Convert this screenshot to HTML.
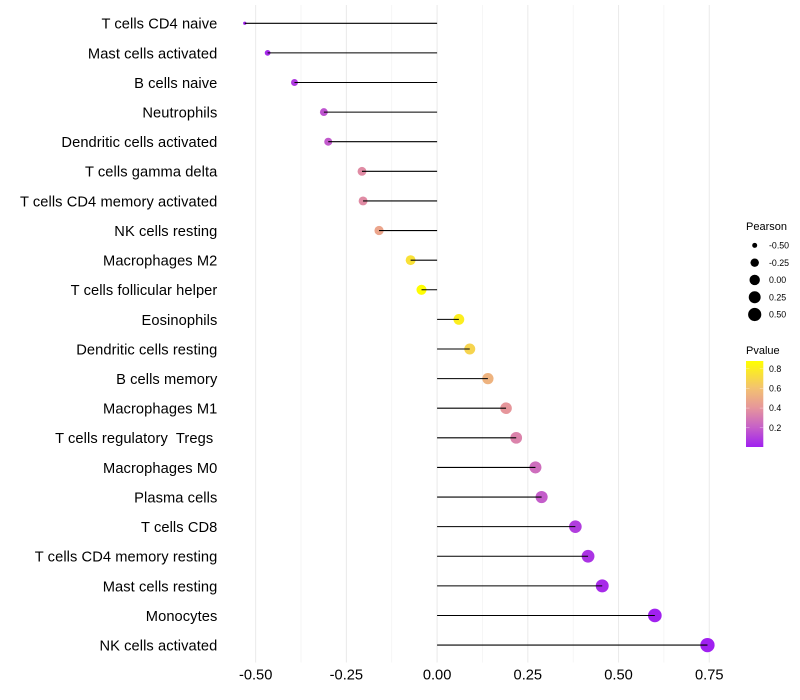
<!DOCTYPE html>
<html>
<head>
<meta charset="utf-8">
<title>Lollipop chart</title>
<style>
html,body{margin:0;padding:0;background:#fff;}
svg{display:block;font-family:"Liberation Sans",sans-serif;}
</style>
</head>
<body>
<svg id="chart" width="800" height="700" viewBox="0 0 800 700" xmlns="http://www.w3.org/2000/svg"></svg>
<script>
const categories = ["T cells CD4 naive","Mast cells activated","B cells naive","Neutrophils","Dendritic cells activated","T cells gamma delta","T cells CD4 memory activated","NK cells resting","Macrophages M2","T cells follicular helper","Eosinophils","Dendritic cells resting","B cells memory","Macrophages M1","T cells regulatory  Tregs ","Macrophages M0","Plasma cells","T cells CD8","T cells CD4 memory resting","Mast cells resting","Monocytes","NK cells activated"];
const pearson = [-0.530,-0.467,-0.393,-0.312,-0.300,-0.207,-0.204,-0.160,-0.073,-0.043,0.060,0.090,0.140,0.190,0.218,0.271,0.288,0.381,0.416,0.455,0.600,0.745];
const pvalue = [0.01,0.03,0.08,0.16,0.18,0.36,0.36,0.47,0.74,0.87,0.80,0.68,0.53,0.40,0.33,0.25,0.19,0.09,0.06,0.035,0.003,0.0003];
const xTicks = [-0.5,-0.25,0,0.25,0.5,0.75];
const xTickLabels = ["-0.50","-0.25","0.00","0.25","0.50","0.75"];
const xMinorTicks = [-0.375,-0.125,0.125,0.375,0.625];
const sizeLegendValues = [-0.5,-0.25,0,0.25,0.5];
const sizeLegendLabels = ["-0.50","-0.25","0.00","0.25","0.50"];
const colorLegendValues = [0.2,0.4,0.6,0.8];
const colorLegendLabels = ["0.2","0.4","0.6","0.8"];
const colorDomain = [0, 0.875];

const NS = "http://www.w3.org/2000/svg";
const svg = document.getElementById("chart");
const X0 = 437.1, XK = 362.9, Y0 = 23.28, YSTEP = 29.61;
const PANEL_TOP = 5, PANEL_BOTTOM = 662.5;
const xScale = v => X0 + XK * v;
const yScale = i => Y0 + YSTEP * i;
const pMin = Math.min(...pearson), pMax = Math.max(...pearson);
const sizeScale = v => 3.3 + 11 * Math.sqrt(Math.max(0, (v - pMin) / (pMax - pMin)));
const stops = [[0,[160,32,240]],[0.2,[198,96,200]],[0.4,[230,150,155]],[0.6,[243,194,112]],[0.875,[255,255,0]]];
function colorScale(p){
  for(let i=1;i<stops.length;i++){
    if(p<=stops[i][0]){
      const a=stops[i-1],b=stops[i],t=(p-a[0])/(b[0]-a[0]);
      return "rgb("+a[1].map((c,k)=>Math.round(c+(b[1][k]-c)*t)).join(",")+")";
    }
  }
  return "rgb(255,255,0)";
}
function mk(tag, attrs, text){
  const el = document.createElementNS(NS, tag);
  for(const k in attrs) el.setAttribute(k, attrs[k]);
  if(text !== undefined){
    el.textContent = text;
    el.setAttribute("xml:space","preserve");
    el.style.whiteSpace = "pre";
  }
  svg.appendChild(el);
  return el;
}

xMinorTicks.forEach(v=>{
  const el = mk("line",{x1:xScale(v),x2:xScale(v),y1:PANEL_TOP,y2:PANEL_BOTTOM,stroke:"#f2f2f2","stroke-width":0.7});
  
  
});
xTicks.forEach(v=>{
  const el = mk("line",{x1:xScale(v),x2:xScale(v),y1:PANEL_TOP,y2:PANEL_BOTTOM,stroke:"#ebebeb","stroke-width":1.07});
  
  
});

categories.forEach((c,i)=>{
  const dot = mk("circle",{cx:xScale(pearson[i]),cy:yScale(i),r:sizeScale(pearson[i])/2,fill:colorScale(pvalue[i])});
  
  
  const seg = mk("line",{x1:xScale(0),x2:xScale(pearson[i]),y1:yScale(i),y2:yScale(i),stroke:"#000","stroke-width":1.07});
  
  
  const lab = mk("text",{x:217.4,y:yScale(i)+5.4,"text-anchor":"end","font-size":14.67,"letter-spacing":0.08,fill:"#000"},c);
  
  
});

xTicks.forEach((v,i)=>{
  const t = mk("text",{x:xScale(v),y:679.5,"text-anchor":"middle","font-size":14.67,fill:"#000"},xTickLabels[i]);
  
  
});

const sizeTitle = mk("text",{x:746,y:230,"font-size":11,fill:"#000"},"Pearson");


sizeLegendValues.forEach((v,i)=>{
  const cy = 245.4 + i * 17.28;
  const c = mk("circle",{cx:754.7,cy:cy,r:sizeScale(v)/2,fill:"#000"});
  
  
  const t = mk("text",{x:769,y:cy+3.1,"font-size":8.8,fill:"#000"},sizeLegendLabels[i]);
  
  
});

const colorTitle = mk("text",{x:746,y:354,"font-size":11,fill:"#000"},"Pvalue");


const defs = document.createElementNS(NS,"defs");
const grad = document.createElementNS(NS,"linearGradient");
grad.setAttribute("id","pg");
grad.setAttribute("x1","0");grad.setAttribute("x2","0");grad.setAttribute("y1","1");grad.setAttribute("y2","0");
stops.forEach(s=>{
  const st = document.createElementNS(NS,"stop");
  st.setAttribute("offset",s[0]/colorDomain[1]);
  st.setAttribute("stop-color","rgb("+s[1].join(",")+")");
  grad.appendChild(st);
});
defs.appendChild(grad);
svg.appendChild(defs);
const BAR_TOP = 361, BAR_BOTTOM = 447, BAR_X = 746, BAR_W = 17.3;
const bar = mk("rect",{x:BAR_X,y:BAR_TOP,width:BAR_W,height:BAR_BOTTOM-BAR_TOP,fill:"url(#pg)"});


colorLegendValues.forEach((v,i)=>{
  const y = BAR_BOTTOM - (v - colorDomain[0]) / (colorDomain[1] - colorDomain[0]) * (BAR_BOTTOM - BAR_TOP) + 0.4;
  const a = mk("line",{x1:BAR_X,x2:BAR_X+3.5,y1:y,y2:y,stroke:"#fff","stroke-opacity":0.55,"stroke-width":0.6});
  
  
  const b = mk("line",{x1:BAR_X+BAR_W-3.5,x2:BAR_X+BAR_W,y1:y,y2:y,stroke:"#fff","stroke-opacity":0.55,"stroke-width":0.6});
  
  
  const t = mk("text",{x:769,y:y+3.1,"font-size":8.8,fill:"#000"},colorLegendLabels[i]);
  
  
});
</script>
</body>
</html>
